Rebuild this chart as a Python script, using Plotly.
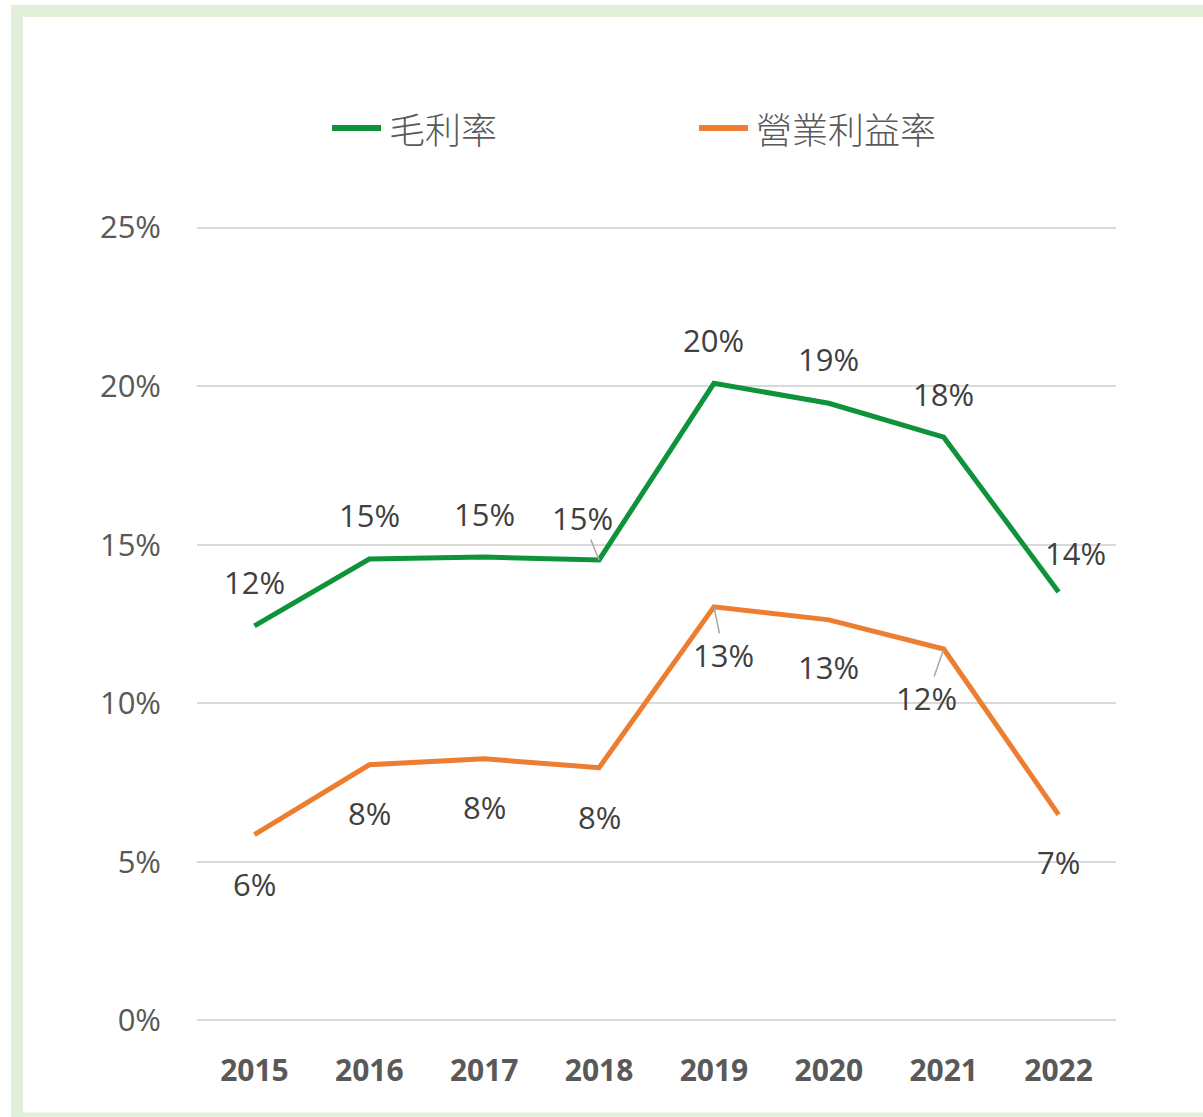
import plotly.graph_objects as go

years = ["2015", "2016", "2017", "2018", "2019", "2020", "2021", "2022"]
gross_margin = [0.1244, 0.1455, 0.1461, 0.1452, 0.2009, 0.1946, 0.1839, 0.1351]
operating_margin = [0.0586, 0.0806, 0.0825, 0.0797, 0.1304, 0.1263, 0.1171, 0.0649]
gross_labels = ["12%", "15%", "15%", "15%", "20%", "19%", "18%", "14%"]
operating_labels = ["6%", "8%", "8%", "8%", "13%", "13%", "12%", "7%"]
y_ticks = [0, 0.05, 0.10, 0.15, 0.20, 0.25]
y_tick_text = ["0%", "5%", "10%", "15%", "20%", "25%"]
series_names = ["毛利率", "營業利益率"]

GREEN = "#0F933A"
ORANGE = "#ED7D31"
NUM_FONT = "Open Sans, Lato, sans-serif"
CJK_FONT = "Noto Sans CJK TC, Noto Sans CJK SC, sans-serif"

# label offsets (pixels) relative to the point: (dx, dy, leader)
gross_off = [(0, -44, False), (0, -44, False), (0, -43, False), (-17, -42, True),
             (0, -43, False), (0, -44, False), (0, -43, False), (17, -39, False)]
oper_off = [(0, 49, False), (0, 48, False), (0, 48, False), (0, 49, False),
            (10, 48, True), (0, 47, False), (-17, 49, True), (0, 47, False)]

fig = go.Figure()
fig.add_trace(go.Scatter(x=years, y=gross_margin, mode="lines", name=series_names[0],
                         line=dict(color=GREEN, width=5)))
fig.add_trace(go.Scatter(x=years, y=operating_margin, mode="lines", name=series_names[1],
                         line=dict(color=ORANGE, width=5)))

annotations = []
for vals, labels, offs in [(gross_margin, gross_labels, gross_off),
                           (operating_margin, operating_labels, oper_off)]:
    for i, (v, t, (dx, dy, leader)) in enumerate(zip(vals, labels, offs)):
        annotations.append(dict(
            x=i, y=v, xref="x", yref="y", text=t,
            showarrow=True, ax=dx, ay=dy, axref="pixel", ayref="pixel",
            arrowhead=0, arrowwidth=1.5 if leader else 0.1,
            arrowcolor="#A6A6A6" if leader else "rgba(0,0,0,0)",
            font=dict(family=NUM_FONT, size=31, color="#404040"),
            xanchor="center", yanchor="middle", borderpad=0,
        ))

# plot-area pixel geometry
L, R, T, B = 197, 87, 225, 94
W, H = 1203, 1117
pw, ph = W - L - R, H - T - B

def px_x(p):
    return (p - L) / pw

def px_y(p):
    return (H - B - p) / ph

shapes = [dict(type="rect", xref="paper", yref="paper",
               x0=px_x(17), x1=px_x(1230), y0=px_y(11), y1=px_y(1118.5),
               line=dict(color="#E2EFDA", width=12), fillcolor="rgba(0,0,0,0)",
               layer="below")]

# custom legend (line swatch + text)
legend_items = [(330, 383, 390, GREEN, series_names[0]),
                (697, 750, 757, ORANGE, series_names[1])]
for x0, x1, tx, col, name in legend_items:
    shapes.append(dict(type="line", xref="paper", yref="paper",
                       x0=px_x(x0 + 2), x1=px_x(x1 - 2), y0=px_y(128), y1=px_y(128),
                       line=dict(color=col, width=6)))
    annotations.append(dict(x=px_x(tx - 3), y=px_y(128), xref="paper", yref="paper",
                            text=name, showarrow=False, xanchor="left", yanchor="middle",
                            font=dict(family=CJK_FONT, size=36, color="#595959", weight=300)))

fig.update_layout(
    width=W, height=H,
    margin=dict(l=L, r=R, t=T, b=B),
    paper_bgcolor="white", plot_bgcolor="white",
    showlegend=False,
    xaxis=dict(type="category", range=[-0.5, 7.5], showgrid=False, zeroline=False,
               showline=False, ticks="",
               tickfont=dict(family=NUM_FONT, size=30, color="#595959", weight="bold"),
               ticklabelstandoff=27),
    yaxis=dict(range=[-0.0008, 0.2508], tickvals=y_ticks, ticktext=y_tick_text,
               showgrid=True, gridcolor="#D9D9D9", gridwidth=2, zeroline=False,
               showline=False, ticks="",
               tickfont=dict(family=NUM_FONT, size=31, color="#595959"),
               ticklabelstandoff=35),
    annotations=annotations,
    shapes=shapes,
)

fig.write_html("out.html", config={"displayModeBar": False},
               post_script="document.body.style.margin='0';")
